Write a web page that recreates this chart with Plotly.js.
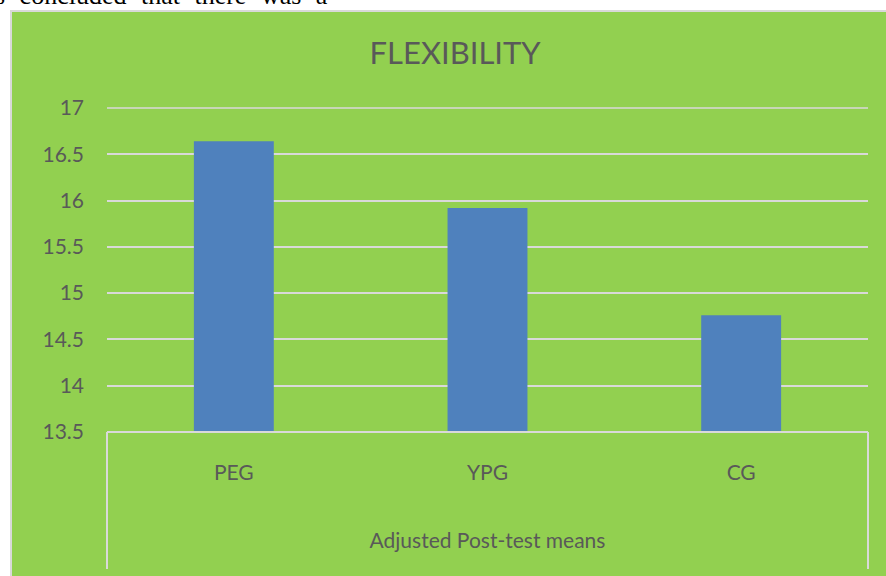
<!DOCTYPE html>
<html>
<head>
<meta charset="utf-8">
<script src="https://cdn.plot.ly/plotly-3.0.1.min.js"></script>
<style>
  html, body { margin: 0; padding: 0; background: #ffffff; width: 886px; height: 576px; overflow: hidden; position: relative; }
  #pretext { position: absolute; left: -5px; top: -17px; font-family: "Liberation Serif", "DejaVu Serif", serif; font-size: 26px; line-height: 26px; word-spacing: 8px; color: #000; white-space: nowrap; }
  #frame { position: absolute; left: 10px; top: 10px; border-left: 2px solid #d9d9d9; border-top: 2px solid #d9d9d9; width: 874px; height: 564px; }
  #chart { width: 874px; height: 564px; }
</style>
</head>
<body>
<div id="pretext">s concluded that there was a</div>
<div id="frame"><div id="chart"></div></div>
<script>
const categories = ["PEG", "YPG", "CG"];
const adjustedMeans = [16.64, 15.92, 14.76];
const yTickValues = [13.5, 14, 14.5, 15, 15.5, 16, 16.5, 17];
const yTickLabels = ["13.5", "14", "14.5", "15", "15.5", "16", "16.5", "17"];

const txt = "#595959";
const fontFam = "Lato, 'Open Sans', sans-serif";

const trace = {
  type: "bar",
  x: categories,
  y: adjustedMeans,
  marker: { color: "#4F81BD" },
  hoverinfo: "x+y"
};

const axisLine = "#d9d9d9";
const layout = {
  width: 874,
  height: 564,
  paper_bgcolor: "#92D050",
  plot_bgcolor: "#92D050",
  margin: { l: 95, r: 18, t: 96, b: 144 },
  showlegend: false,
  bargap: 0.685,
  title: {
    text: "FLEXIBILITY",
    font: { family: fontFam, size: 31, color: txt },
    xref: "container", x: 0.507, xanchor: "center",
    yref: "container", y: 1 - 41 / 564, yanchor: "middle"
  },
  xaxis: {
    type: "category",
    showgrid: false,
    zeroline: false,
    showline: false,
    ticks: "",
    ticklabelstandoff: 26,
    tickfont: { family: fontFam, size: 21, color: txt },
    title: {
      text: "Adjusted Post-test means",
      font: { family: fontFam, size: 21, color: txt },
      standoff: 50
    },
    automargin: false
  },
  yaxis: {
    range: [13.5, 17],
    tickmode: "array",
    tickvals: yTickValues,
    ticktext: yTickLabels,
    showgrid: true,
    gridcolor: axisLine,
    gridwidth: 1.5,
    zeroline: false,
    showline: false,
    ticks: "",
    ticklabelstandoff: 22,
    tickfont: { family: fontFam, size: 21, color: txt },
    automargin: false
  },
  shapes: [
    { type: "line", xref: "paper", yref: "paper", x0: 0, x1: 1, y0: 1, y1: 1, line: { color: axisLine, width: 1.5 }, layer: "below" },
    { type: "line", xref: "paper", yref: "paper", x0: 0, x1: 1, y0: 0, y1: 0, line: { color: axisLine, width: 2 }, layer: "above" },
    { type: "line", xref: "paper", yref: "paper", x0: 0, x1: 0, y0: 0, y1: -137 / 324, line: { color: axisLine, width: 2 }, layer: "above" },
    { type: "line", xref: "paper", yref: "paper", x0: 1, x1: 1, y0: 0, y1: -137 / 324, line: { color: axisLine, width: 2 }, layer: "above" }
  ]
};

Plotly.newPlot("chart", [trace], layout, { displayModeBar: false });
</script>
</body>
</html>
